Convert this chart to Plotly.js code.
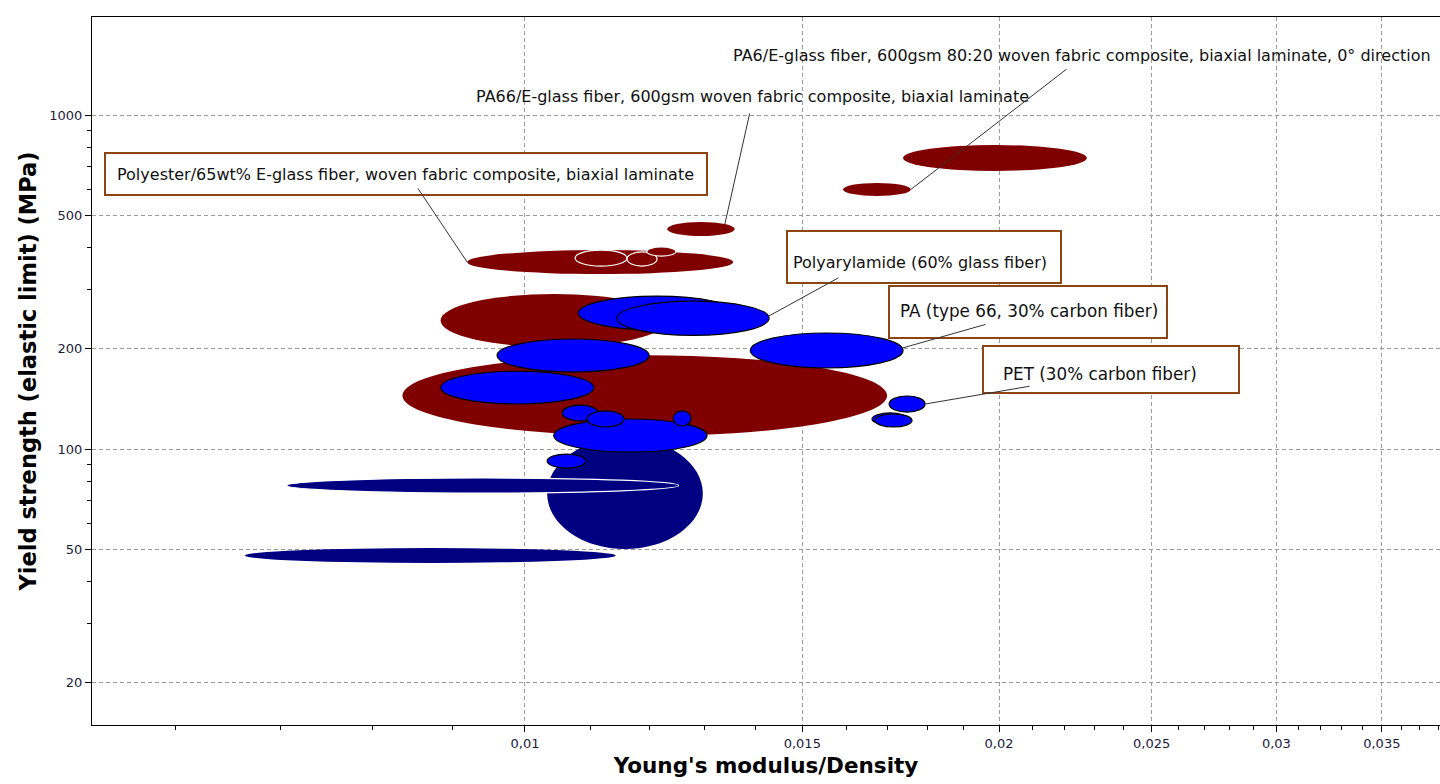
<!DOCTYPE html>
<html><head><meta charset="utf-8">
<script src="https://cdn.plot.ly/plotly-3.0.1.min.js"></script>
<style>html,body{margin:0;padding:0;background:#fff;}#chart{width:1440px;height:784px;}</style>
</head><body><div id="chart"></div>
<script>
// ---- data: each bubble is a property range (min/max) of one material record ----
const materialGroup = ['laminate','laminate','laminate','laminate','laminate','laminate','laminate','laminate','laminate',
  'unfilled','unfilled','unfilled',
  'filled','filled','filled','filled','filled','filled','filled','filled','filled','filled','filled','filled','filled'];
const modDensMin = [0.01738,0.01592,0.01231,0.00919,0.01076,0.01161,0.01195,0.00884,0.00836,
  0.01033,0.00664,0.00706,
  0.01081,0.01144,0.00960,0.01390,0.00884,0.01043,0.01056,0.01095,0.01242,0.01703,0.01661,0.01668,0.01033];
const modDensMax = [0.02274,0.01758,0.01359,0.01356,0.01161,0.01213,0.01247,0.01231,0.01698,
  0.01297,0.01142,0.01252,
  0.01361,0.01429,0.01199,0.01738,0.01106,0.01305,0.01113,0.01156,0.01275,0.01795,0.01751,0.01761,0.01093];
const yieldMin = [680,572,434,334,353,353,378,202,109.4,
  50.2,45.6,73.8,
  227,219,170,174.8,136.4,97.9,121.3,116.4,117.2,129,118,116.4,87.7];
const yieldMax = [813,626,478,394,394,389,402.5,291,191,
  107.9,50.5,81.9,
  287,277,213.5,222.5,171,123,135.4,130,130,144.1,128.2,127.3,96.6];

const labelText = [
  'Polyester/65wt% E-glass fiber, woven fabric composite, biaxial laminate',
  'PA66/E-glass fiber, 600gsm woven fabric composite, biaxial laminate',
  'PA6/E-glass fiber, 600gsm 80:20 woven fabric composite, biaxial laminate, 0° direction',
  'Polyarylamide (60% glass fiber)',
  'PA (type 66, 30% carbon fiber)',
  'PET (30% carbon fiber)'
];
const labelTarget = [3, 2, 1, 13, 15, 21];

const xTickVals = [0.01, 0.015, 0.02, 0.025, 0.03, 0.035];
const xTickText = ['0,01', '0,015', '0,02', '0,025', '0,03', '0,035'];
const yTickVals = [20, 50, 100, 200, 500, 1000];
const yTickText = ['20', '50', '100', '200', '500', '1000'];

// ---- styles / layout geometry ----
const W = 1440, H = 784;
const M = {l: 92, r: 0, t: 17, b: 59};
const PW = W - M.l - M.r, PH = H - M.t - M.b;
const XR = [-2.2749, -1.4190], YR = [1.1737, 3.2934];
const groupFill = {laminate: '#800000', unfilled: '#000080', filled: '#0000FF'};
const groupLine = {laminate: null, unfilled: null, filled: '#000000'};
const whiteEdge = new Set([4, 5, 6, 11]);
const boxColor = '#8B4513';
const FONT = 'DejaVu Sans';

// label placement (pixels): text centre, font size, optional box, leader tail, anchor angle on ellipse
const labelPos = [
  {tx: 405.5, ty: 174, fs: 16, box: [104, 152, 708, 196], tail: [417, 187], ang: 180},
  {tx: 752.5, ty: 97, fs: 16, box: null, tail: [750, 112], ang: 45},
  {tx: 1081.5, ty: 55, fs: 16, box: null, tail: [1068, 68], ang: 0},
  {tx: 920, ty: 262, fs: 16, box: [786, 230, 1062, 284], tail: [840, 277], ang: 7},
  {tx: 1028.5, ty: 311, fs: 16.8, box: [888, 285, 1168, 339], tail: [987, 324], ang: 8},
  {tx: 1100, ty: 374, fs: 16.8, box: [982, 345, 1240, 394], tail: [1031, 386], ang: 0}
];

const px2paperX = p => (p - M.l) / PW;
const py2paperY = p => (M.t + PH - p) / PH;
const lx2px = v => M.l + (v - XR[0]) / (XR[1] - XR[0]) * PW;
const ly2py = v => M.t + PH - (v - YR[0]) / (YR[1] - YR[0]) * PH;

const shapes = [];
for (let i = 0; i < modDensMin.length; i++) {
  const g = materialGroup[i];
  let line = {width: 0, color: 'rgba(0,0,0,0)'};
  if (whiteEdge.has(i)) line = {width: 1.2, color: '#ffffff'};
  else if (groupLine[g]) line = {width: 1.2, color: groupLine[g]};
  shapes.push({type: 'circle', xref: 'x', yref: 'y',
    x0: modDensMin[i], x1: modDensMax[i], y0: yieldMin[i], y1: yieldMax[i],
    fillcolor: groupFill[g], line: line, layer: 'above'});
}
const annotations = [];
labelText.forEach((t, k) => {
  const p = labelPos[k];
  if (p.box) {
    shapes.push({type: 'rect', xref: 'paper', yref: 'paper',
      x0: px2paperX(p.box[0] + 1), x1: px2paperX(p.box[2] - 1),
      y0: py2paperY(p.box[3] - 1), y1: py2paperY(p.box[1] + 1),
      fillcolor: '#ffffff', line: {color: boxColor, width: 2}, layer: 'above'});
  }
  annotations.push({xref: 'paper', yref: 'paper', x: px2paperX(p.tx), y: py2paperY(p.ty),
    xanchor: 'center', yanchor: 'middle', text: t, showarrow: false,
    font: {family: FONT, size: p.fs, color: '#111111'}});
});
labelText.forEach((t, k) => {
  const p = labelPos[k];
  const i = labelTarget[k];
  const a = p.ang * Math.PI / 180;
  const lx0 = Math.log10(modDensMin[i]), lx1 = Math.log10(modDensMax[i]);
  const ly0 = Math.log10(yieldMin[i]), ly1 = Math.log10(yieldMax[i]);
  const hx = (lx0 + lx1) / 2 + Math.cos(a) * (lx1 - lx0) / 2;
  const hy = (ly0 + ly1) / 2 + Math.sin(a) * (ly1 - ly0) / 2;
  annotations.push({xref: 'x', yref: 'y', x: hx, y: hy, text: '',
    showarrow: true, arrowhead: 0, arrowwidth: 1, arrowcolor: '#333333',
    ax: p.tail[0] - lx2px(hx), ay: p.tail[1] - ly2py(hy), standoff: 0, startstandoff: 0});
});

const xMinor = [];
for (let k = 6; k <= 38; k++) { const v = k / 1000; if (!xTickVals.some(m => Math.abs(m - v) < 1e-9)) xMinor.push(v); }
const yMinor = [30, 40, 60, 70, 80, 90, 300, 400, 600, 700, 800, 900];

const centers = {
  x: modDensMin.map((v, i) => Math.sqrt(v * modDensMax[i])),
  y: yieldMin.map((v, i) => Math.sqrt(v * yieldMax[i]))
};
const trace = {type: 'scatter', mode: 'markers', x: centers.x, y: centers.y,
  marker: {size: 6, opacity: 0}, hoverinfo: 'x+y', showlegend: false};

const tickFont = {family: FONT, size: 13, color: '#1b1b3b'};
const gridStyle = {showgrid: true, gridcolor: '#9a9a9a', gridwidth: 1, griddash: '4px,3px'};
const layout = {
  width: W, height: H, margin: M, paper_bgcolor: '#ffffff', plot_bgcolor: '#ffffff',
  separators: ',.', showlegend: false,
  xaxis: Object.assign({type: 'log', range: XR, tickmode: 'array', tickvals: xTickVals, ticktext: xTickText,
    showline: true, linecolor: '#000', linewidth: 1, mirror: true, ticks: 'outside', ticklen: 6, tickcolor: '#000',
    zeroline: false, tickfont: tickFont,
    minor: {tickmode: 'array', tickvals: xMinor, ticks: 'outside', ticklen: 4, tickcolor: '#000', showgrid: false},
    title: {text: "Young's modulus/Density", font: {family: FONT, size: 21.5, color: '#000', weight: 'bold'}, standoff: 8}
  }, gridStyle),
  yaxis: Object.assign({type: 'log', range: YR, tickmode: 'array', tickvals: yTickVals, ticktext: yTickText,
    showline: true, linecolor: '#000', linewidth: 1, mirror: false, ticks: 'outside', ticklen: 6, tickcolor: '#000',
    zeroline: false, tickfont: tickFont,
    minor: {tickmode: 'array', tickvals: yMinor, ticks: 'outside', ticklen: 4, tickcolor: '#000', showgrid: false},
    title: {text: 'Yield strength (elastic limit) (MPa)', font: {family: FONT, size: 22.5, color: '#000', weight: 'bold'}, standoff: 6}
  }, gridStyle),
  shapes: shapes, annotations: annotations
};
Plotly.newPlot('chart', [trace], layout, {displayModeBar: false, staticPlot: true});
</script></body></html>
